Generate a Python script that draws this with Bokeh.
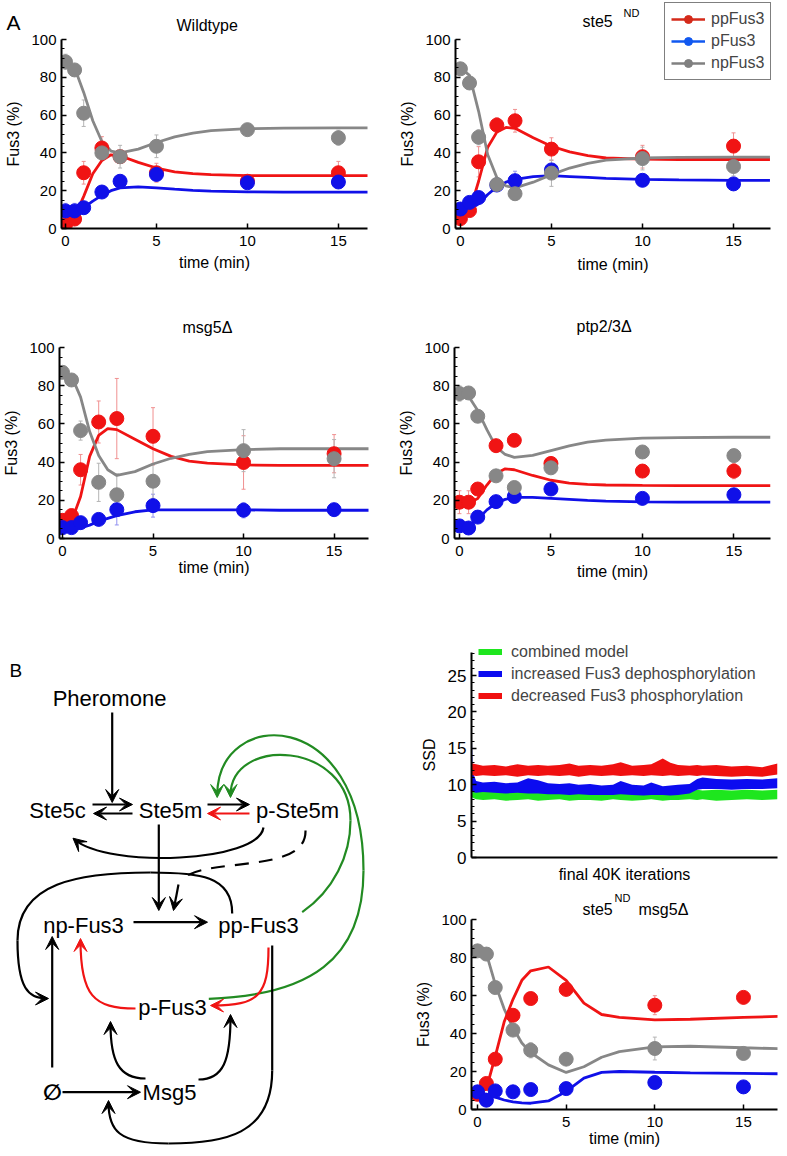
from bokeh.plotting import figure
from bokeh.models import (Range1d, Legend, LegendItem, Whisker, TeeHead, GridBox,
                          ColumnDataSource, Arrow, VeeHead, FixedTicker)
from bokeh.layouts import column, row
from bokeh.embed import file_html
from bokeh.resources import INLINE
from bokeh.core.properties import value

FONT = "Liberation Sans"
RED, BLUE, GREY = "#f01414", "#1010e8", "#878787"
RED_E, BLUE_E, GREY_E = "#f09090", "#9090f0", "#b4b4b4"
GREEN_D = "#228b22"
GREEN_C, BLUE_C, RED_C = "#1ee61e", "#0b0bf0", "#f01010"

# ---------------- data ----------------
t_data = [0, 0.5, 1, 2, 3, 5, 10, 15]
t_model = [0, 0.5, 1, 1.5, 2, 2.5, 3, 4, 5, 6, 7, 8, 10, 12, 15, 17]

# Wildtype
wt_pp = [2, 5, 29.5, 42.6, 38, 29.5, 25, 29.5]
wt_p = [9.3, 9.3, 11, 19.3, 25, 28.6, 24.2, 24.6]
wt_np = [88.2, 83.9, 61, 40, 38, 43.5, 52.3, 48]
wt_pp_err = [3, 3, 6, 6, 3, 5, 2, 6]
wt_p_err = [4, 4, 3, 2, 2, 3, 2, 3]
wt_np_err = [4, 3, 7, 4, 6, 6, 2, 4]
wt_pp_m = [3, 6, 17, 29, 36, 39, 38.5, 35, 32, 30, 29, 28.5, 28, 28, 28, 28]
wt_p_m = [8, 8.5, 11, 14.5, 17.5, 20, 21.5, 22, 21.5, 20.8, 20.2, 19.8, 19.4, 19.2, 19.2, 19.2]
wt_np_m = [88, 85, 72, 57, 46, 41, 40, 42, 45.5, 48.5, 50.5, 51.8, 52.8, 53.1, 53.2, 53.2]

# ste5 ND
s_pp = [5.2, 9.5, 35.3, 54.7, 57, 42, 38, 43.6]
s_p = [10.3, 13.8, 16.4, 23, 25.3, 31, 25.5, 23.6]
s_np = [84.5, 77, 48.3, 23.3, 18.4, 29.3, 37, 32.8]
s_pp_err = [2, 2, 8, 4, 6, 6, 6, 7]
s_p_err = [3, 3, 3, 3, 5, 3, 3, 2]
s_np_err = [2, 2, 4, 2, 3, 7, 6, 5]
s_pp_m = [5, 9, 25, 43, 51, 53.5, 53, 48, 43.5, 40.5, 38.5, 37.3, 36.7, 36.5, 36.5, 36.5]
s_p_m = [10, 10, 13, 18, 22, 24.5, 26, 27.5, 28, 27.5, 27, 26.5, 26, 25.7, 25.5, 25.5]
s_np_m = [85, 81, 62, 39, 27, 22.5, 21.5, 24.5, 28.5, 32, 34.5, 36.2, 37.3, 37.6, 37.8, 37.8]

# msg5 delta
m_pp = [9.5, 12, 36, 61, 62.8, 53.5, 39.8, 44.4]
m_p = [5.7, 5.7, 8.3, 10, 15.1, 17.2, 14.8, 15.1]
m_np = [87, 83, 56.5, 29.4, 22.9, 30, 46, 41.8]
m_pp_err = [2, 3, 8, 11, 21, 15, 14, 10]
m_p_err = [2, 2, 2, 3, 8, 6, 4, 3]
m_np_err = [2, 2, 5, 10, 11, 9, 11, 10]
m_pp_m = [8, 9, 22, 43, 54, 57.5, 57, 52, 47, 43, 40.5, 39.5, 38.5, 38.3, 38.3, 38.3]
m_p_m = [5, 5, 5.5, 7, 9, 10.5, 12, 14, 15, 15, 15, 15, 15, 14.8, 14.8, 14.8]
m_np_m = [86, 85, 74, 56, 43.5, 36, 33, 35, 39, 42, 44, 45.5, 46.5, 47, 47, 47]

# ptp2/3 delta
p_pp = [19, 19, 25.9, 48.6, 51.4, 39.3, 35.3, 35.3]
p_p = [6.6, 5.5, 11.2, 19.3, 22, 25.9, 21, 22.9]
p_np = [75.9, 76.2, 64, 32.8, 26.7, 37, 45.3, 43.4]
p_pp_err = [6, 6, 2, 2, 2, 2, 2, 4]
p_p_err = [2, 2, 2, 2, 2, 2, 2, 2]
p_np_err = [4, 2, 2, 2, 2, 2, 2, 3]
p_pp_m = [18, 18.5, 21, 28, 34, 36.5, 36, 33, 30.5, 29, 28.3, 28, 27.8, 27.7, 27.7, 27.7]
p_p_m = [6, 6.5, 10, 15, 18.5, 20.5, 21.5, 21.5, 21, 20.5, 20, 19.6, 19.2, 19, 19, 19]
p_np_m = [75, 74.5, 67, 57, 48, 44, 42.5, 43.5, 46, 48.5, 50.5, 51.5, 52.5, 52.8, 53, 53]

# ste5 ND msg5 delta
f_pp = [8, 13.7, 26.5, 49.6, 58.4, 63.2, 54.9, 59]
f_p = [9.3, 4.9, 9.8, 9.3, 10.5, 11, 14.2, 11.9]
f_np = [83.5, 81.8, 64.2, 41.8, 31.2, 26.5, 32.1, 29.5]
f_pp_err = [2, 2, 2, 2, 2, 2, 5, 2]
f_p_err = [2, 2, 2, 2, 2, 3, 2, 2]
f_np_err = [2, 2, 2, 2, 4, 2, 6, 2]
f_pp_m = [8, 11, 28, 46, 58, 68, 73, 75, 68, 56, 50, 48.5, 47.2, 47.5, 48.5, 49]
f_p_m = [9, 8, 6.5, 5, 4, 3.5, 3.3, 4.5, 9.5, 16.5, 19.5, 20, 19.6, 19.3, 19, 18.8]
f_np_m = [84, 82, 66, 53, 43, 35, 30, 23.5, 19.5, 22.5, 27.5, 30.5, 33, 33.3, 32.5, 32]

# SSD traces (envelopes; thousands of iterations within final 40K)
ssd_x = [0, 0.15, 0.6, 1.5, 3, 4.5, 6, 7.4, 8.7, 10, 11.5, 12.8, 14, 15.5, 17, 18.5,
         19.5, 21, 22.5, 23.5, 25, 26, 27, 28.5, 29.5, 30.2, 32, 34, 36, 38, 40]
red_hi = [12.9, 12.9, 12.8, 12.6, 12.7, 12.5, 12.8, 12.6, 12.7, 12.6, 12.7, 12.9, 12.6, 12.7, 12.6, 12.8,
          13.1, 12.6, 12.7, 12.8, 13.6, 13.0, 12.7, 12.6, 12.7, 12.6, 12.7, 12.5, 12.6, 12.4, 12.9]
red_lo = [11.4, 11.3, 11.2, 11.3, 11.2, 11.3, 11.1, 11.3, 11.2, 11.3, 11.2, 11.3, 11.1, 11.3, 11.2, 11.3,
          11.2, 11.3, 11.2, 11.3, 11.2, 11.3, 11.2, 11.3, 11.2, 11.3, 11.2, 11.1, 11.2, 11.1, 11.4]
blue_hi = [19.3, 11.8, 10.5, 10.3, 10.4, 10.2, 10.3, 10.9, 10.6, 10.2, 10.1, 10.2, 10.0, 10.1, 9.9, 10.0,
           10.5, 10.0, 9.9, 10.3, 9.8, 9.9, 10.0, 10.1, 10.8, 11.0, 10.8, 10.7, 10.8, 10.7, 10.9]
blue_lo = [9.0, 9.0, 8.9, 9.0, 8.9, 8.8, 8.9, 8.8, 8.8, 8.7, 8.7, 8.6, 8.7, 8.6, 8.6, 8.6,
           8.7, 8.6, 8.5, 8.6, 8.6, 8.5, 8.6, 8.8, 9.3, 9.4, 9.4, 9.3, 9.4, 9.4, 9.5]
green_hi = [9.8, 9.5, 9.3, 9.2, 9.3, 9.1, 9.2, 9.1, 9.2, 9.0, 9.1, 9.2, 9.0, 9.1, 9.0, 9.2,
            9.1, 9.0, 9.1, 9.0, 9.1, 9.0, 9.2, 9.1, 9.3, 9.2, 9.3, 9.2, 9.3, 9.2, 9.3]
green_lo = [8.3, 8.2, 8.0, 7.9, 8.0, 7.8, 7.9, 8.0, 7.8, 7.9, 8.0, 7.8, 7.9, 7.9, 7.8, 8.0,
            7.9, 7.8, 7.9, 8.0, 7.8, 7.9, 7.9, 8.0, 7.9, 8.0, 7.8, 7.9, 8.0, 7.9, 8.0]
ssd_labels = ["combined model", "increased Fus3 dephosphorylation", "decreased Fus3 phosphorylation"]
legend_labels = ["ppFus3", "pFus3", "npFus3"]

PAGE_W, PAGE_H = 787, 1152


# ---------------- helpers ----------------
def style_axis(ax, fs_tick, fs_label, label_std, tick_std=5):
    ax.axis_line_width = 2
    ax.axis_line_color = "black"
    ax.major_tick_in = 5
    ax.major_tick_out = 0
    ax.minor_tick_in = 3
    ax.minor_tick_out = 0
    ax.major_tick_line_width = 1.5
    ax.major_label_text_font = FONT
    ax.major_label_text_font_size = fs_tick
    ax.major_label_text_color = "black"
    ax.axis_label_text_font = FONT
    ax.axis_label_text_font_size = fs_label
    ax.axis_label_text_font_style = "normal"
    ax.axis_label_text_color = "black"
    ax.axis_label_standoff = label_std
    ax.major_label_standoff = tick_std


def fus3_panel(geo, pp, p_, np_, pp_e, p_e, np_e, ppm, pm, npm, xlab_std):
    w, h, bl, br, bt, bb, x0, x1 = geo
    fig = figure(width=w, height=h, x_range=Range1d(x0, x1), y_range=Range1d(0, 100),
                 min_border_left=bl, min_border_right=br, min_border_top=bt,
                 min_border_bottom=bb, toolbar_location=None, output_backend="svg", title=None)
    fig.outline_line_color = None
    fig.grid.visible = False
    fig.xaxis.ticker = FixedTicker(ticks=[0, 5, 10, 15], minor_ticks=[])
    fig.yaxis.ticker = FixedTicker(ticks=[0, 20, 40, 60, 80, 100],
                                   minor_ticks=[v for v in range(0, 101, 5) if v % 20])
    fig.xaxis.axis_label = "time (min)"
    fig.yaxis.axis_label = "Fus3 (%)"
    style_axis(fig.xaxis[0], "15px", "16px", xlab_std, 7)
    style_axis(fig.yaxis[0], "15px", "16px", 6, 5)
    for m, c in ((ppm, RED), (pm, BLUE), (npm, GREY)):
        fig.line(t_model, m, line_color=c, line_width=2.8)
    for vals, err, c in ((pp, pp_e, RED_E), (p_, p_e, BLUE_E), (np_, np_e, GREY_E)):
        src = ColumnDataSource(dict(t=t_data, lo=[v - e for v, e in zip(vals, err)],
                                    up=[v + e for v, e in zip(vals, err)]))
        fig.add_layout(Whisker(source=src, base="t", lower="lo", upper="up", line_color=c,
                               line_width=1,
                               upper_head=TeeHead(size=4, line_color=c, line_width=1),
                               lower_head=TeeHead(size=4, line_color=c, line_width=1)))
    for vals, c in ((pp, RED), (p_, BLUE), (np_, GREY)):
        fig.scatter(t_data, vals, size=14, fill_color=c, line_color=c)
    return fig


# ---------------- panel A ----------------
fa1 = fus3_panel((395, 290, 61, 28, 39, 61, -0.22, 16.6),
                 wt_pp, wt_p, wt_np, wt_pp_err, wt_p_err, wt_np_err, wt_pp_m, wt_p_m, wt_np_m, 5)
fa2 = fus3_panel((392, 290, 60, 17, 35, 62, -0.27, 17.03),
                 s_pp, s_p, s_np, s_pp_err, s_p_err, s_np_err, s_pp_m, s_p_m, s_np_m, 7)
fa3 = fus3_panel((395, 300, 57, 27, 54, 52, -0.165, 16.9),
                 m_pp, m_p, m_np, m_pp_err, m_p_err, m_np_err, m_pp_m, m_p_m, m_np_m, 0)
fa4 = fus3_panel((392, 300, 59, 17, 57, 50, -0.27, 17.0),
                 p_pp, p_p, p_np, p_pp_err, p_p_err, p_np_err, p_pp_m, p_p_m, p_np_m, 4)
ff = fus3_panel((387, 262, 71, 10, 31, 41, -0.34, 16.92),
                f_pp, f_p, f_np, f_pp_err, f_p_err, f_np_err, f_pp_m, f_p_m, f_np_m, 0)

# ---------------- SSD ----------------
ps = figure(width=387, height=298, x_range=Range1d(0, 40), y_range=Range1d(0, 28.16),
            min_border_left=68, min_border_right=0, min_border_top=62, min_border_bottom=31,
            toolbar_location=None, output_backend="svg", title=None)
ps.outline_line_color = None
ps.grid.visible = False
ps.xaxis.ticker = FixedTicker(ticks=[], minor_ticks=[])
ps.yaxis.ticker = FixedTicker(ticks=[0, 5, 10, 15, 20, 25],
                              minor_ticks=[v for v in range(0, 29) if v % 5])
ps.xaxis.axis_label = "final 40K iterations"
ps.yaxis.axis_label = "SSD"
style_axis(ps.xaxis[0], "17px", "16px", 8)
style_axis(ps.yaxis[0], "17px", "16px", 7)
ps.varea(x=ssd_x, y1=green_lo, y2=green_hi, fill_color=GREEN_C)
ps.varea(x=ssd_x, y1=blue_lo, y2=blue_hi, fill_color=BLUE_C)
ps.varea(x=ssd_x, y1=red_lo, y2=red_hi, fill_color=RED_C)

# ---------------- diagram ----------------
pdg = figure(width=400, height=562, x_range=Range1d(-8, 392), y_range=Range1d(562, 0),
             min_border=0, toolbar_location=None, output_backend="svg", title=None)
pdg.axis.visible = False
pdg.grid.visible = False
pdg.outline_line_color = None

node_names = ["Pheromone", "Ste5c", "Ste5m", "p-Ste5m", "np-Fus3", "pp-Fus3", "p-Fus3", "Msg5"]
node_x = [101, 49, 162, 289, 75, 250, 164, 161]
node_y = [108, 220, 220, 220, 335, 335, 417, 502]
pdg.text(x=node_x, y=node_y, text=node_names, text_font=value(FONT), text_font_size="22px",
         text_align="center", text_baseline="middle", text_color="black")
pdg.text(x=[44], y=[502], text=["∅"], text_font=value("DejaVu Sans"), text_font_size="22px",
         text_align="center", text_baseline="middle", text_color="black", text_font_style="bold")

HEAD = 13


def head(x, y, ux, uy, c):
    pdg.add_layout(Arrow(end=VeeHead(size=HEAD, fill_color=c, line_color=c, line_width=1),
                         x_start=x - ux, y_start=y - uy, x_end=x, y_end=y,
                         line_alpha=0, line_width=1, line_color=c))


straight = [  # x0, y0, x1, y1, color
    (103.7, 122, 103.7, 212, "black"),
    (84, 214, 124, 214, "black"),
    (124, 223, 85, 223, "black"),
    (199, 214, 241, 214, "black"),
    (241, 223, 199, 223, RED),
    (150.3, 234, 150.3, 320, "black"),
    (170, 294, 165, 320, "black"),
    (125, 331.7, 199, 331.7, "black"),
    (43.7, 477, 43.7, 346, "black"),
    (54, 501.7, 132, 501.7, "black"),
]
for x0, y0, x1, y1, c in straight:
    pdg.add_layout(Arrow(end=VeeHead(size=HEAD, fill_color=c, line_color=c, line_width=1),
                         x_start=x0, y_start=y0, x_end=x1, y_end=y1, line_color=c, line_width=2.2))

curves = [  # x0, y0, cx0, cy0, cx1, cy1, x1, y1, color, dash, head
    (293.7, 321.7, 325, 300, 342, 265, 342, 230, GREEN_D, "solid", False),
    (342, 230, 342, 150, 222, 145, 222, 205, GREEN_D, "solid", True),
    (200.3, 408.3, 300, 405, 355, 370, 355, 280, GREEN_D, "solid", False),
    (355, 280, 355, 115, 208.7, 115, 208.7, 205, GREEN_D, "solid", True),
    (255, 237, 250, 272, 100, 278, 66, 249, "black", "solid", True),
    (297, 240, 298, 285, 195, 265, 172, 290, "black", "14 10", False),
    (223.7, 323, 224, 285, 190, 282, 142, 282, "black", "solid", False),
    (142, 282, 70, 282, 9, 292, 9, 350, "black", "solid", False),
    (9, 350, 9, 398, 20, 408, 38, 408, "black", "solid", True),
    (127, 418, 85, 418, 72, 405, 72, 350, RED, "solid", True),
    (260, 357, 260, 405, 250, 415, 204, 415, RED, "solid", True),
    (263.7, 355, 263.7, 420, 263.7, 450, 263.7, 480, "black", "solid", False),
    (263.7, 480, 263.7, 545, 215, 553, 160, 553, "black", "solid", False),
    (160, 553, 110, 553, 100, 540, 100, 512, "black", "solid", True),
    (137, 488, 110, 488, 102, 470, 102, 433, "black", "solid", True),
    (190, 489, 215, 489, 222, 470, 222, 426, "black", "solid", True),
]
for x0, y0, cx0, cy0, cx1, cy1, x1, y1, c, dash, hd in curves:
    pdg.bezier(x0=[x0], y0=[y0], x1=[x1], y1=[y1], cx0=[cx0], cy0=[cy0], cx1=[cx1], cy1=[cy1],
               line_color=c, line_width=2.2, line_dash=dash)
    if hd:
        dx, dy = x1 - cx1, y1 - cy1
        n = (dx * dx + dy * dy) ** 0.5
        head(x1 + dx / n * 2, y1 + dy / n * 2, dx / n, dy / n, c)

# ---------------- overlay with panel letters, titles and legends ----------------
ov = figure(width=PAGE_W, height=PAGE_H, x_range=Range1d(0, PAGE_W), y_range=Range1d(PAGE_H, 0),
            min_border=0, toolbar_location=None, output_backend="svg", title=None)
ov.axis.visible = False
ov.grid.visible = False
ov.outline_line_color = None
ov.background_fill_color = None
ov.border_fill_color = None

texts = [  # text, left x, baseline y, size
    ("A", 6, 22, "21px"), ("B", 9, 670, "19px"),
    ("Wildtype", 176, 25, "16px"),
    ("ste5", 582, 21, "16px"), ("ND", 623, 12, "11px"),
    ("msg5Δ", 182, 327, "16px"),
    ("ptp2/3Δ", 576, 326, "16px"),
    ("ste5", 582, 909, "16px"), ("ND", 614, 897, "11px"), ("msg5Δ", 638, 909, "16px"),
]
for txt, x, y, sz in texts:
    ov.text(x=[x], y=[y], text=[txt], text_font=value(FONT), text_font_size=sz,
            text_align="left", text_baseline="alphabetic", text_color="black")

items = []
for lab, c in zip(legend_labels, ["#d42a1a", "#1158f0", "#808080"]):
    r1 = ov.line([-50, -40], [-50, -50], line_color=c, line_width=2.5)
    r2 = ov.scatter([-50], [-50], size=12, fill_color=c, line_color=c)
    items.append(LegendItem(label=lab, renderers=[r1, r2]))
ov.add_layout(Legend(items=items, location=(664, PAGE_H - 80), padding=6, spacing=2, margin=0,
                     glyph_width=34, glyph_height=20, label_height=20, label_standoff=6,
                     label_text_font=FONT, label_text_font_size="16px",
                     border_line_color="black", border_line_width=1,
                     background_fill_color="white", background_fill_alpha=1))

s_items = []
for lab, c in zip(ssd_labels, [GREEN_C, BLUE_C, RED_C]):
    r = ov.line([-50, -40], [-50, -50], line_color=c, line_width=6)
    s_items.append(LegendItem(label=lab, renderers=[r]))
ov.add_layout(Legend(items=s_items, location=(478, PAGE_H - 706), padding=0, spacing=1, margin=0,
                     glyph_width=24, glyph_height=21, label_height=21, label_standoff=9,
                     label_text_font=FONT, label_text_font_size="16px",
                     border_line_color=None, background_fill_alpha=0))

main = column(row(fa1, fa2), row(fa3, fa4), row(pdg, column(ps, ff)))
page = GridBox(children=[(main, 0, 0), (ov, 0, 0)])
open("out.html", "w").write(file_html(page, INLINE))
